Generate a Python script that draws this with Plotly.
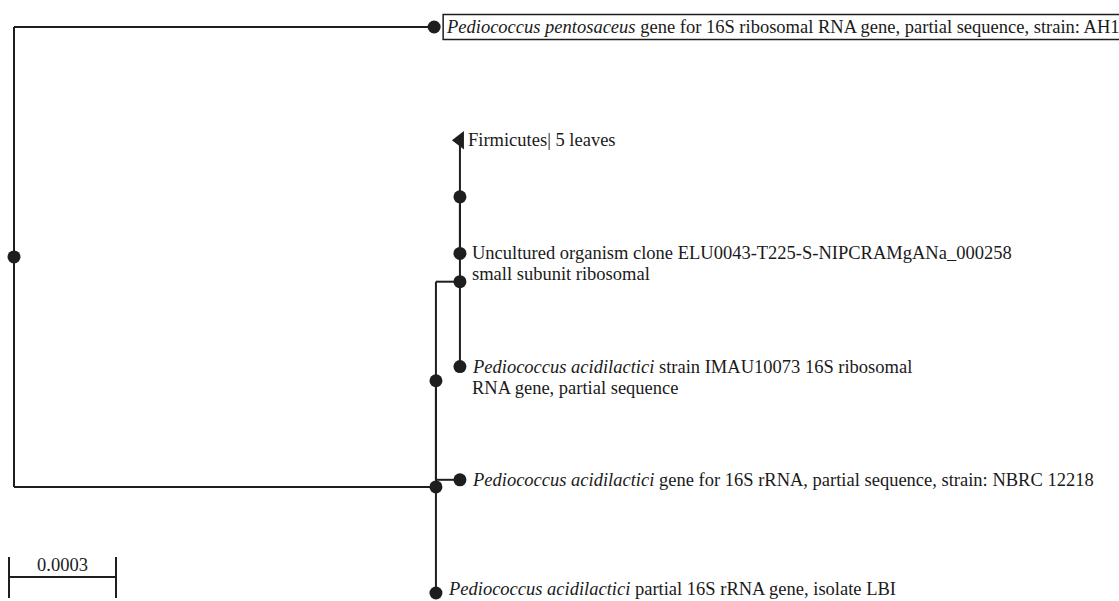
import plotly.graph_objects as go

# ---- tree data ----
node_names = ["root", "pent", "A", "B", "C", "E", "firm", "unc", "imau", "nbrc", "lbi"]
node_parent = [None, "root", "root", "A", "B", "C", "E", "E", "C", "B", "A"]
branch_length = [0.0, 0.001178, 0.001183, 0.0, 0.0000673, 0.0, 0.0, 0.0, 0.0, 0.0000673, 0.0]
collapsed = ["firm"]

label_lines = {
    "pent": ["<i>Pediococcus pentosaceus</i> gene for 16S ribosomal RNA gene, partial sequence, strain: AH1"],
    "firm": ["Firmicutes| 5 leaves"],
    "unc": ["Uncultured organism clone ELU0043-T225-S-NIPCRAMgANa_000258", "small subunit ribosomal"],
    "imau": ["<i>Pediococcus acidilactici</i> strain IMAU10073 16S ribosomal", "RNA gene, partial sequence"],
    "nbrc": ["<i>Pediococcus acidilactici</i> gene for 16S rRNA, partial sequence, strain: NBRC 12218"],
    "lbi": ["<i>Pediococcus acidilactici</i> partial 16S rRNA gene, isolate LBI"],
}
boxed = ["pent"]
scale_bar_length = 0.0003
scale_bar_label = "0.0003"

# ---- layout computation ----
children = {n: [] for n in node_names}
for n, p in zip(node_names, node_parent):
    if p is not None:
        children[p].append(n)
blen = dict(zip(node_names, branch_length))

X, Y = {}, {}
leaf_counter = [0]


def walk(n, x):
    X[n] = x + blen[n]
    if not children[n]:
        Y[n] = leaf_counter[0]
        leaf_counter[0] += 1
    else:
        for c in children[n]:
            walk(c, X[n])
        Y[n] = (Y[children[n][0]] + Y[children[n][-1]]) / 2


walk("root", 0.0)

W, H = 1119, 601
KX = 0.0003 / 107.0      # data units per pixel
ROOT_PX = 14
LEAF_PX0, LEAF_STEP = 27, 113.2


def py(px):
    return (px - LEAF_PX0) / LEAF_STEP


LINE = "#1e1e1e"
FONT = "Liberation Serif"
FS = 18.5

fig = go.Figure()

# branches
seg_x, seg_y = [], []
for n, p in zip(node_names, node_parent):
    if p is None:
        continue
    seg_x += [X[p], X[n], None]
    seg_y += [Y[n], Y[n], None]
for n in node_names:
    if children[n]:
        seg_x += [X[n], X[n], None]
        seg_y += [Y[children[n][0]], Y[children[n][-1]], None]
fig.add_trace(go.Scatter(x=seg_x, y=seg_y, mode="lines",
                         line=dict(color=LINE, width=2), hoverinfo="skip", showlegend=False))

# node dots
dot_nodes = [n for n in node_names if n not in collapsed]
fig.add_trace(go.Scatter(x=[X[n] for n in dot_nodes], y=[Y[n] for n in dot_nodes], mode="markers",
                         marker=dict(symbol="circle", size=13, color=LINE, line=dict(width=0)),
                         showlegend=False, hoverinfo="skip"))
fig.add_trace(go.Scatter(x=[X[n] for n in collapsed], y=[Y[n] for n in collapsed], mode="markers",
                         marker=dict(symbol="triangle-left", size=16, color=LINE, line=dict(width=0)),
                         showlegend=False, hoverinfo="skip"))

# labels
annotations = []
for n, lines in label_lines.items():
    xs = 6 if n in collapsed else 10
    base_shift = 4 if n == "lbi" else 0   # keep the bottom label inside the frame
    for i, t in enumerate(lines):
        annotations.append(dict(x=X[n], y=Y[n], xref="x", yref="y", text=t, showarrow=False,
                                xanchor="left", yanchor="middle", xshift=xs,
                                yshift=base_shift - 21 * i,
                                font=dict(family=FONT, size=FS, color="#1a1a1a")))

shapes = []
for n in boxed:
    shapes.append(dict(type="rect", xref="x", yref="y", xsizemode="pixel", ysizemode="pixel",
                       xanchor=X[n], yanchor=Y[n], x0=9, x1=900, y0=-12.5, y1=12.5,
                       line=dict(color=LINE, width=1.5), fillcolor="rgba(0,0,0,0)"))

# scale bar
sb_x0 = -5 * KX
sb_x1 = sb_x0 + scale_bar_length
shapes.append(dict(type="line", xref="x", yref="y", x0=sb_x0, x1=sb_x1, y0=py(577), y1=py(577),
                   line=dict(color=LINE, width=2)))
for xx in (sb_x0, sb_x1):
    shapes.append(dict(type="line", xref="x", yref="y", x0=xx, x1=xx, y0=py(557), y1=py(598),
                       line=dict(color=LINE, width=2)))
annotations.append(dict(x=(sb_x0 + sb_x1) / 2, y=py(565), xref="x", yref="y", text=scale_bar_label,
                        showarrow=False, xanchor="center", yanchor="middle",
                        font=dict(family=FONT, size=FS, color="#1a1a1a")))

fig.update_layout(
    width=W, height=H, margin=dict(l=0, r=0, t=0, b=0),
    paper_bgcolor="white", plot_bgcolor="white",
    xaxis=dict(range=[-ROOT_PX * KX, (W - ROOT_PX) * KX], visible=False, fixedrange=True),
    yaxis=dict(range=[py(H), py(0)], visible=False, fixedrange=True),
    annotations=annotations, shapes=shapes, showlegend=False,
)

fig.write_html("out.html", config={"displayModeBar": False},
               post_script="document.body.style.margin='0px';document.body.style.overflow='hidden';")
